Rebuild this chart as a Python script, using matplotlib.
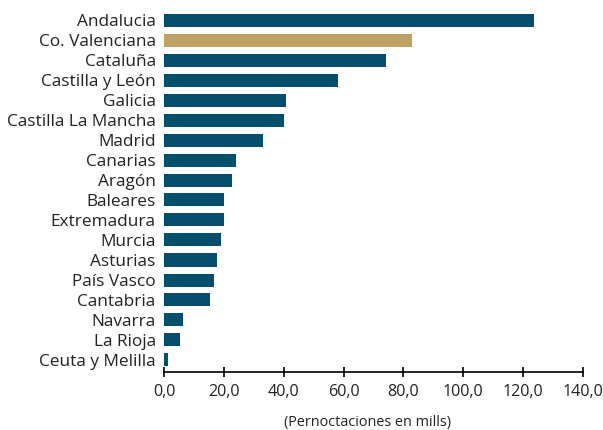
import matplotlib
matplotlib.use("Agg")
import matplotlib.pyplot as plt

regions = ["Andalucia", "Co. Valenciana", "Cataluña", "Castilla y León", "Galicia",
           "Castilla La Mancha", "Madrid", "Canarias", "Aragón", "Baleares",
           "Extremadura", "Murcia", "Asturias", "País Vasco", "Cantabria",
           "Navarra", "La Rioja", "Ceuta y Melilla"]
nights = [123.6, 82.9, 74.2, 58.2, 40.8, 40.1, 33.1, 24.1, 22.7, 20.1,
          20.0, 19.1, 17.7, 16.7, 15.4, 6.4, 5.4, 1.3]
highlight = "Co. Valenciana"
xticks = [0, 20, 40, 60, 80, 100, 120, 140]

BLUE = "#034d6d"
GOLD = "#bfa263"

plt.rcParams["font.family"] = ["Open Sans", "DejaVu Sans"]

fig = plt.figure(figsize=(6.03, 4.30), dpi=100)
ax = fig.add_axes([164 / 603, 1 - 372 / 430, 419 / 603, 372 / 430])

pos = list(range(len(regions)))
colors = [GOLD if r == highlight else BLUE for r in regions]
ax.barh(pos, nights, height=0.65, color=colors)

ax.set_xlim(0, 140)
ax.set_ylim(len(regions) - 0.4, -1.0)
ax.set_yticks(pos)
ax.set_yticklabels(regions, fontsize=12.4, color="#222222")
ax.tick_params(axis="y", length=0, pad=6)
ax.set_xticks(xticks)
ax.set_xticklabels([f"{v:.1f}".replace(".", ",") for v in xticks], fontsize=11.6, color="#222222")
ax.tick_params(axis="x", direction="inout", length=7, width=1.2, pad=5)
for s in ("top", "right", "left"):
    ax.spines[s].set_visible(False)
ax.spines["bottom"].set_linewidth(1.2)
ax.set_xlabel("(Pernoctaciones en mills)", fontsize=10.4, labelpad=9, color="#222222")
ax.xaxis.set_label_coords(0.485, -0.115)

fig.savefig("out.png", dpi=100)
